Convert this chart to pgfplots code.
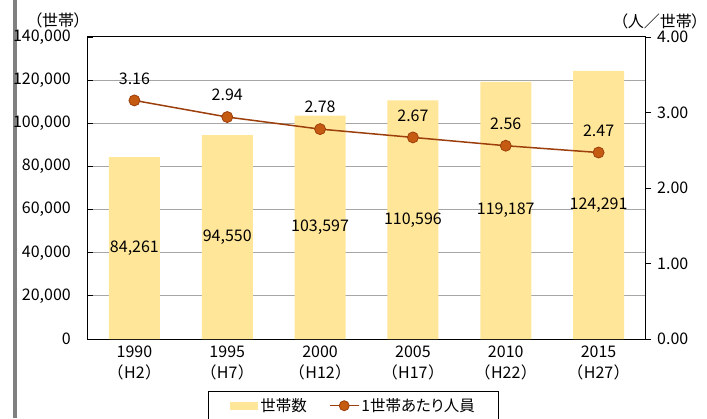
\documentclass[border=0pt]{standalone}
\usepackage{fontspec}
\setmainfont[RawFeature=+palt]{Noto Sans CJK JP}
\usepackage{pgfplots}
\pgfplotsset{compat=1.18}
\definecolor{barcol}{HTML}{FFE699}
\definecolor{linecol}{HTML}{9C3F0C}
\definecolor{markcol}{HTML}{C55A11}
\definecolor{gridcol}{HTML}{A6A6A6}
\begin{document}
\begin{tikzpicture}[x=1pt,y=1pt,font=\fontsize{16pt}{19pt}\selectfont]
\useasboundingbox (0,0) rectangle (707,418);
\fill[black!50] (13,0) rectangle (16.5,418);
\begin{axis}[
  at={(88pt,79pt)}, anchor=south west,
  scale only axis, width=557pt, height=302pt,
  xmin=-0.5, xmax=5.5, ymin=0, ymax=140000,
  ytick={0,20000,40000,60000,80000,100000,120000,140000},
  ymajorgrids, grid style={gridcol, line width=1pt},
  xtick={0,1,2,3,4,5},
  xticklabels={{1990\\（\hspace{1pt}H2\hspace{1pt}）},{1995\\（\hspace{1pt}H7\hspace{1pt}）},{2000\\（\hspace{1pt}H12\hspace{1pt}）},{2005\\（\hspace{1pt}H17\hspace{1pt}）},{2010\\（\hspace{1pt}H22\hspace{1pt}）},{2015\\（\hspace{1pt}H27\hspace{1pt}）}},
  xtick style={draw=none},
  extra x ticks={0.5,1.5,2.5,3.5,4.5},
  extra x tick labels={},
  extra x tick style={grid=none, tick style={draw=black, line width=0.8pt}, major tick length=5pt},
  xtick pos=bottom, ytick pos=left,
  tick align=inside, major tick length=5pt,
  tick style={black, line width=0.8pt},
  axis line style={black, line width=1pt},
  scaled y ticks=false,
  yticklabel style={/pgf/number format/fixed, /pgf/number format/precision=0, /pgf/number format/1000 sep={,}, /pgf/number format/assume math mode=true, inner sep=0pt, xshift=-17pt},
  xticklabel style={align=center, font=\fontsize{16pt}{21pt}\selectfont, inner sep=0pt, yshift=-7pt},
]
\addplot[ybar, bar width=51pt, fill=barcol, draw=none] coordinates {
  (0,84261) (1,94550) (2,103597) (3,110596) (4,119187) (5,124291)};
\addplot[draw=none, mark=none, point meta=explicit,
  nodes near coords={\pgfmathprintnumber[fixed, precision=0, 1000 sep={,}, assume math mode=true]{\pgfplotspointmeta}},
  every node near coord/.style={anchor=center, black}] coordinates {
  (0,42130.5) [84261] (1,47275) [94550] (2,51798.5) [103597]
  (3,55298) [110596] (4,59593.5) [119187] (5,62145.5) [124291]};
\end{axis}
\begin{axis}[
  at={(88pt,79pt)}, anchor=south west,
  scale only axis, width=557pt, height=302pt,
  xmin=-0.5, xmax=5.5, ymin=0, ymax=4,
  axis y line*=right, axis x line=none,
  ytick={0,1,2,3,4},
  tick align=outside, major tick length=6pt,
  tick style={black, line width=0.8pt},
  axis line style={black, line width=1pt},
  yticklabel style={/pgf/number format/fixed, /pgf/number format/fixed zerofill, /pgf/number format/precision=2, /pgf/number format/assume math mode=true, inner sep=0pt, xshift=6pt},
  legend columns=2,
  legend style={at={(0.2154,-0.172)}, anchor=north west, draw=black, line width=1pt,
    font=\fontsize{15.5pt}{18pt}\selectfont,
    inner xsep=22pt, inner ysep=5pt, column sep=0pt,
    nodes={inner xsep=2pt},
    /tikz/every even column/.append style={column sep=20pt}},
  legend cell align=left,
]
\addlegendimage{legend image code/.code={\fill[barcol] (0pt,-3.5pt) rectangle (27pt,3.5pt);}}
\addlegendentry{世帯数}
\addplot[linecol, line width=1.5pt, mark=*, mark size=5.5pt,
  mark options={fill=markcol, draw=linecol, line width=0.8pt},
  point meta=y,
  nodes near coords={\pgfmathprintnumber[fixed, fixed zerofill, precision=2, assume math mode=true]{\pgfplotspointmeta}},
  every node near coord/.style={anchor=center, yshift=22pt, black},
  legend image code/.code={\draw[linecol, line width=1.5pt] (0pt,0pt) -- (29pt,0pt);
    \draw[fill=markcol, draw=linecol, line width=0.8pt] (14.5pt,0pt) circle (5pt);}
] coordinates {(0,3.16) (1,2.94) (2,2.78) (3,2.67) (4,2.56) (5,2.47)};
\addlegendentry{1世帯あたり人員}
\end{axis}
\node at (58,398) {（世帯）};
\node[anchor=east, inner xsep=0pt] at (700,397) {（人／世帯）};
\end{tikzpicture}
\end{document}
